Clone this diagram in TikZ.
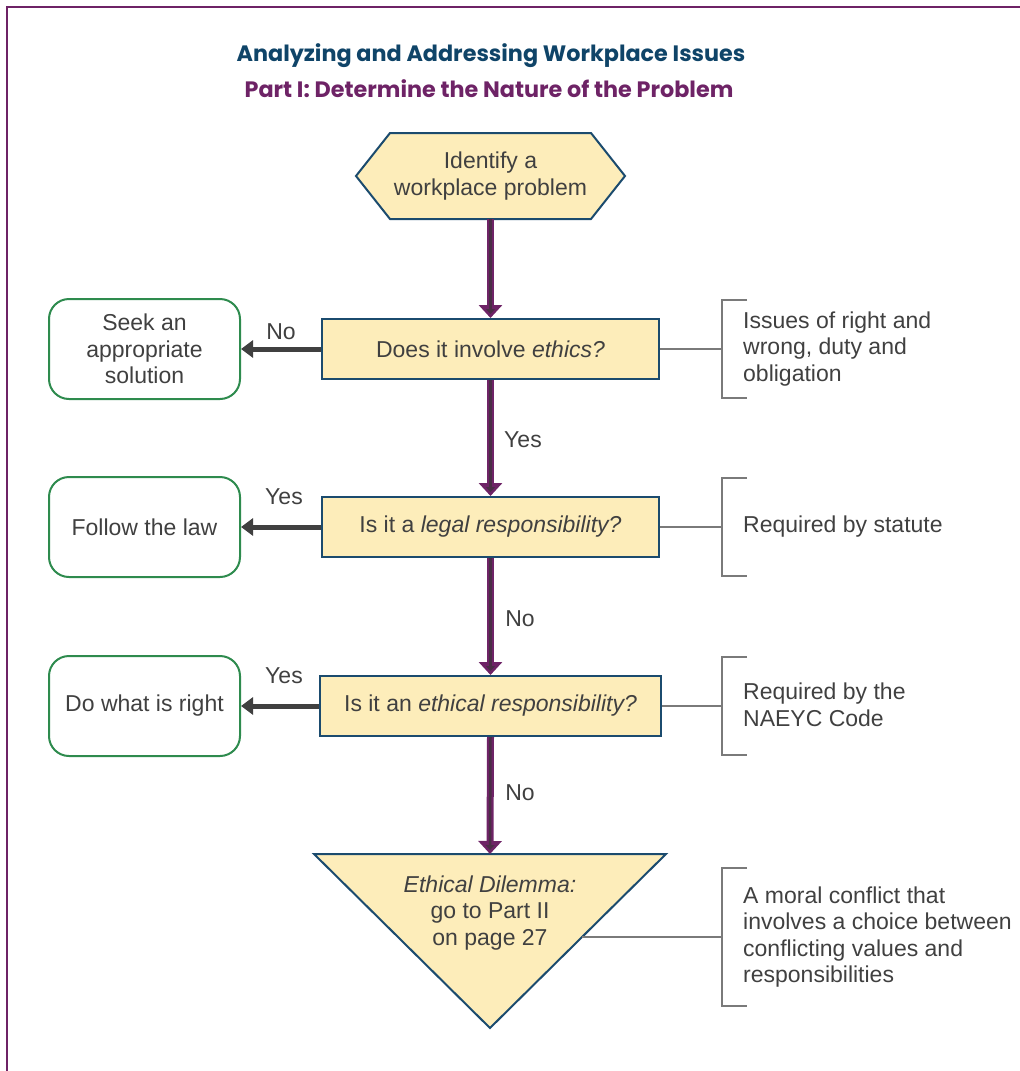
\documentclass[tikz,border=0pt]{standalone}
\usepackage{fontspec}
\setmainfont{Liberation Sans}
\newfontfamily\titlefont{Poppins}
\usetikzlibrary{arrows.meta}
\definecolor{pur}{HTML}{6E2366}
\definecolor{purdark}{HTML}{4A2E46}
\definecolor{navy}{HTML}{0F4468}
\definecolor{boxb}{HTML}{1B4B6E}
\definecolor{fillY}{HTML}{FDEDBA}
\definecolor{grn}{HTML}{2E8B4E}
\definecolor{txt}{HTML}{404040}
\definecolor{brk}{HTML}{7A7A7A}
\tikzset{
  body/.style={text=txt, font=\fontsize{23}{26.5}\selectfont, align=center, inner sep=0pt},
  qbox/.style={body, draw=boxb, line width=2pt, fill=fillY, minimum height=60pt},
  gbox/.style={body, draw=grn, line width=2pt, rounded corners=20pt, minimum width=191pt, minimum height=100pt},
  varrow/.style={draw=pur, line width=7pt, -{Triangle[width=23pt,length=13pt]},
    postaction={draw=purdark, line width=2.5pt, shorten >=4pt, -{Triangle[width=9pt,length=5pt]}}},
  harrow/.style={draw=txt, line width=5pt, -{Triangle[width=17pt,length=12pt]}},
  brkline/.style={draw=brk, line width=2pt},
  note/.style={body, align=left, anchor=west},
  lbl/.style={body},
  shapeline/.style={draw=boxb, line width=2pt, fill=fillY, line join=miter},
  titletext/.style={inner sep=0pt, font=\titlefont\bfseries\fontsize{22.3}{26}\selectfont},
}
\begin{document}
\begin{tikzpicture}[x=1pt,y=-1pt]
\useasboundingbox (0,0) rectangle (1020,1071);
\draw[pur, line width=2.5pt] (7,1071) -- (7,7) -- (1020,7);

% titles
\node[titletext, text=navy] (t1) at (491,56) {Analyzing and Addressing Workplace Issues};
\node[titletext, text=pur] (t2) at (489,89) {Part I: Determine the Nature of the Problem};

% hexagon start
\draw[shapeline] (356,176) -- (390,133) -- (591,133) -- (625,176) -- (591,219) -- (390,219) -- cycle;
\node[body, minimum width=269pt, minimum height=86pt] (hex) at (490.5,176) {Identify a\\workplace problem};

% questions
\node[qbox, minimum width=337pt] (q1) at (490.5,349) {Does it involve \textit{ethics?}};
\node[qbox, minimum width=337pt] (q2) at (490.5,527) {Is it a \textit{legal responsibility?}};
\node[qbox, minimum width=341pt] (q3) at (490.5,706) {Is it an \textit{ethical responsibility?}};

% dilemma triangle
\draw[shapeline] (314,854) -- (666,854) -- (490,1028) -- cycle;
\coordinate (dtop) at (490,854);
\coordinate (dright) at (582,937);
\node[body] (dil) at (490,913) {\textit{Ethical Dilemma:}\\go to Part II\\on page 27};

% outcomes
\node[gbox] (s1) at (144.5,349) {Seek an\\appropriate\\solution};
\node[gbox] (s2) at (144.5,527) {Follow the law};
\node[gbox] (s3) at (144.5,706) {Do what is right};

% vertical arrows
\draw[varrow] (hex.south) -- (q1.north);
\draw[varrow] (q1.south) -- (q2.north);
\draw[varrow] (q2.south) -- (q3.north);
\draw[varrow] (q3.south) -- (dtop);

% horizontal arrows
\draw[harrow] (q1.west) -- (s1.east);
\draw[harrow] (q2.west) -- (s2.east);
\draw[harrow] (q3.west) -- (s3.east);

% labels
\node[lbl] (l1) at (281,332) {No};
\node[lbl] (l2) at (284,497) {Yes};
\node[lbl] (l3) at (284,676) {Yes};
\node[lbl] (l4) at (523,440) {Yes};
\node[lbl] (l5) at (520,619) {No};
\node[lbl] (l6) at (520,793) {No};

% brackets
\coordinate (b1) at (722,349);
\coordinate (b2) at (722,527);
\coordinate (b3) at (722,706);
\coordinate (b4) at (722,937);
\draw[brkline] (q1.east) -- (b1);
\draw[brkline] (q2.east) -- (b2);
\draw[brkline] (q3.east) -- (b3);
\draw[brkline] (dright) -- (b4);
\draw[brkline] (747,300) -- (722,300) -- (722,398) -- (747,398);
\draw[brkline] (747,478) -- (722,478) -- (722,576) -- (747,576);
\draw[brkline] (747,657) -- (722,657) -- (722,755) -- (747,755);
\draw[brkline] (747,868) -- (722,868) -- (722,1006) -- (747,1006);

% notes
\node[note] (n1) at (743,349) {Issues of right and\\wrong, duty and\\obligation};
\node[note] (n2) at (743,527) {Required by statute};
\node[note] (n3) at (743,705) {Required by the\\NAEYC Code};
\node[note] (n4) at (743,937) {A moral conflict that\\involves a choice between\\conflicting values and\\responsibilities};
\end{tikzpicture}
\end{document}
